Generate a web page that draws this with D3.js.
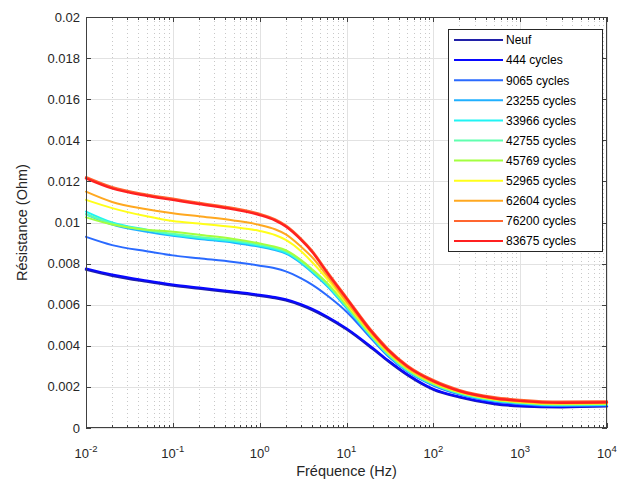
<!DOCTYPE html>
<html><head><meta charset="utf-8">
<script src="https://cdn.jsdelivr.net/npm/d3@7"></script>
<style>body{margin:0;background:#fff;} svg{display:block;font-family:"Liberation Sans",Arial,sans-serif;}</style>
</head><body>
<svg id="c" width="630" height="486"></svg>
<script>
const freqs = [0.01,0.02,0.05,0.1,0.2,0.5,1,1.5,2,3,4,6,10,20,30,50,100,200,500,1000,3000,10000];
const seriesNames = ["Neuf","444 cycles","9065 cycles","23255 cycles","33966 cycles","42755 cycles","45769 cycles","52965 cycles","62604 cycles","76200 cycles","83675 cycles"];
const seriesColors = ["#2020a8","#0808ff","#2a6aff","#20b0ff","#20f4f4","#60ffb0","#a4ff40","#ffff1a","#ffa820","#ff6630","#ff2020"];
const neuf   = [0.00771,0.00741,0.00712,0.00693,0.00678,0.00659,0.00643,0.00632,0.00621,0.00597,0.00575,0.00537,0.00480,0.00385,0.00326,0.00258,0.00187,0.00149,0.00117,0.00106,0.00101,0.00105];
const c444   = [0.00776,0.00746,0.00717,0.00698,0.00683,0.00664,0.00648,0.00637,0.00626,0.00602,0.00580,0.00542,0.00485,0.00390,0.00330,0.00262,0.00190,0.00152,0.00120,0.00108,0.00103,0.00107];
const c9065  = [0.00930,0.00890,0.00860,0.00840,0.00826,0.00808,0.00790,0.00777,0.00762,0.00728,0.00698,0.00645,0.00566,0.00428,0.00350,0.00275,0.00207,0.00163,0.00129,0.00116,0.00107,0.00109];
const c23255 = [0.01040,0.00990,0.00955,0.00935,0.00920,0.00902,0.00882,0.00866,0.00849,0.00802,0.00758,0.00690,0.00584,0.00434,0.00354,0.00278,0.00210,0.00166,0.00132,0.00119,0.00110,0.00112];
const c33966 = [0.01053,0.01000,0.00965,0.00940,0.00925,0.00907,0.00887,0.00871,0.00854,0.00807,0.00763,0.00695,0.00588,0.00437,0.00357,0.00280,0.00212,0.00168,0.00134,0.00121,0.00112,0.00114];
const c42755 = [0.01040,0.00995,0.00962,0.00945,0.00930,0.00912,0.00892,0.00877,0.00860,0.00812,0.00768,0.00700,0.00592,0.00440,0.00360,0.00283,0.00214,0.00170,0.00136,0.00123,0.00114,0.00116];
const c45769 = [0.01025,0.00990,0.00965,0.00955,0.00940,0.00920,0.00898,0.00882,0.00865,0.00817,0.00773,0.00705,0.00597,0.00444,0.00363,0.00286,0.00216,0.00172,0.00138,0.00124,0.00115,0.00117];
const c52965 = [0.01110,0.01070,0.01030,0.01007,0.00995,0.00978,0.00959,0.00939,0.00915,0.00860,0.00808,0.00725,0.00608,0.00450,0.00370,0.00291,0.00221,0.00175,0.00140,0.00127,0.00118,0.00120];
const c62604 = [0.01150,0.01100,0.01065,0.01045,0.01030,0.01010,0.00988,0.00967,0.00942,0.00882,0.00832,0.00740,0.00615,0.00455,0.00373,0.00294,0.00223,0.00177,0.00142,0.00129,0.00120,0.00122];
const c76200 = [0.01221,0.01172,0.01136,0.01116,0.01096,0.01070,0.01042,0.01016,0.00986,0.00921,0.00864,0.00761,0.00636,0.00468,0.00386,0.00305,0.00233,0.00185,0.00150,0.00137,0.00128,0.00130];
const c83675 = [0.01215,0.01166,0.01130,0.01110,0.01090,0.01064,0.01036,0.01010,0.00980,0.00915,0.00858,0.00755,0.00630,0.00462,0.00380,0.00300,0.00228,0.00180,0.00145,0.00132,0.00123,0.00125];
const allSeries = [neuf,c444,c9065,c23255,c33966,c42755,c45769,c52965,c62604,c76200,c83675];
const yTicks = [0,0.002,0.004,0.006,0.008,0.01,0.012,0.014,0.016,0.018,0.02];
const yTickLabels = ["0","0.002","0.004","0.006","0.008","0.01","0.012","0.014","0.016","0.018","0.02"];
const xTicks = [0.01,0.1,1,10,100,1000,10000];
const xTickExps = ["-2","-1","0","1","2","3","4"];

const svg = d3.select("#c");
const L=86, R=607, T=17, B=428;
const x = d3.scaleLog().domain([0.01,10000]).range([L,R]);
const y = d3.scaleLinear().domain([0,0.02]).range([B,T]);

const minor = [];
for (let e=-2;e<4;e++) for (let k=2;k<=9;k++) minor.push(k*Math.pow(10,e));

const g = svg.append("g");
g.selectAll(".mg").data(minor).join("line")
  .attr("x1",d=>Math.round(x(d))+0.5).attr("x2",d=>Math.round(x(d))+0.5)
  .attr("y1",T).attr("y2",B).attr("stroke","#c8c8c8").attr("stroke-width",1).attr("stroke-dasharray","1,3");
g.selectAll(".xg").data(xTicks).join("line")
  .attr("x1",d=>Math.round(x(d))+0.5).attr("x2",d=>Math.round(x(d))+0.5)
  .attr("y1",T).attr("y2",B).attr("stroke","#e2e2e2").attr("stroke-width",1);
g.selectAll(".yg").data(yTicks).join("line")
  .attr("y1",d=>Math.round(y(d))+0.5).attr("y2",d=>Math.round(y(d))+0.5)
  .attr("x1",L).attr("x2",R).attr("stroke","#e2e2e2").attr("stroke-width",1);

const line = d3.line().x((d,i)=>x(freqs[i])).y(d=>y(d)).curve(d3.curveMonotoneX);
const lw = [2.4,2.2,2,2,2,2,2,2,2,2.2,2.4];
svg.append("g").selectAll("path").data(allSeries).join("path")
  .attr("d",d=>line(d)).attr("fill","none")
  .attr("stroke",(d,i)=>seriesColors[i]).attr("stroke-width",(d,i)=>lw[i])
  .attr("stroke-linejoin","round").attr("stroke-linecap","round");

const ax = svg.append("g");
ax.append("rect").attr("x",L+0.5).attr("y",T+0.5).attr("width",R-L-1).attr("height",B-T-1)
  .attr("fill","none").attr("stroke","#404040").attr("stroke-width",1);
yTicks.forEach(v=>{
  const yy = Math.round(y(v))+0.5;
  ax.append("line").attr("x1",L).attr("x2",L+5).attr("y1",yy).attr("y2",yy).attr("stroke","#404040");
  ax.append("line").attr("x1",R-5).attr("x2",R).attr("y1",yy).attr("y2",yy).attr("stroke","#404040");
});
ax.selectAll(".yl").data(yTicks).join("text")
  .attr("x",L-6).attr("y",d=>y(d)+4.5).attr("text-anchor","end")
  .attr("font-size",13).attr("fill","#262626").text((d,i)=>yTickLabels[i]);
xTicks.forEach(v=>{
  const xx = Math.round(x(v))+0.5;
  ax.append("line").attr("x1",xx).attr("x2",xx).attr("y1",B).attr("y2",B-5).attr("stroke","#404040");
  ax.append("line").attr("x1",xx).attr("x2",xx).attr("y1",T).attr("y2",T+5).attr("stroke","#404040");
});
minor.forEach(v=>{
  const xx = Math.round(x(v))+0.5;
  ax.append("line").attr("x1",xx).attr("x2",xx).attr("y1",B).attr("y2",B-3).attr("stroke","#404040");
  ax.append("line").attr("x1",xx).attr("x2",xx).attr("y1",T).attr("y2",T+3).attr("stroke","#404040");
});
xTicks.forEach((v,i)=>{
  const t = ax.append("text").attr("x",x(v)).attr("y",458).attr("text-anchor","middle")
    .attr("font-size",13).attr("fill","#262626");
  t.append("tspan").text("10");
  t.append("tspan").attr("dy",-6).attr("font-size",9.5).text(xTickExps[i]);
});
svg.append("text").attr("x",(L+R)/2).attr("y",476).attr("text-anchor","middle")
  .attr("font-size",14.5).attr("fill","#262626").text("Fréquence (Hz)");
svg.append("text").attr("transform",`translate(27,${(T+B)/2}) rotate(-90)`).attr("text-anchor","middle")
  .attr("font-size",14.5).attr("fill","#262626").text("Résistance (Ohm)");

const lg = svg.append("g");
lg.append("rect").attr("x",448.5).attr("y",29.5).attr("width",154).attr("height",222)
  .attr("fill","#fff").attr("stroke","#262626").attr("stroke-width",1);
seriesNames.forEach((n,i)=>{
  const yy = 40 + i*20.1;
  lg.append("line").attr("x1",454).attr("x2",503).attr("y1",yy).attr("y2",yy)
    .attr("stroke",seriesColors[i]).attr("stroke-width",2);
  lg.append("text").attr("x",506).attr("y",yy+4.3).attr("font-size",12).attr("fill","#000").text(n);
});
</script>
</body></html>
